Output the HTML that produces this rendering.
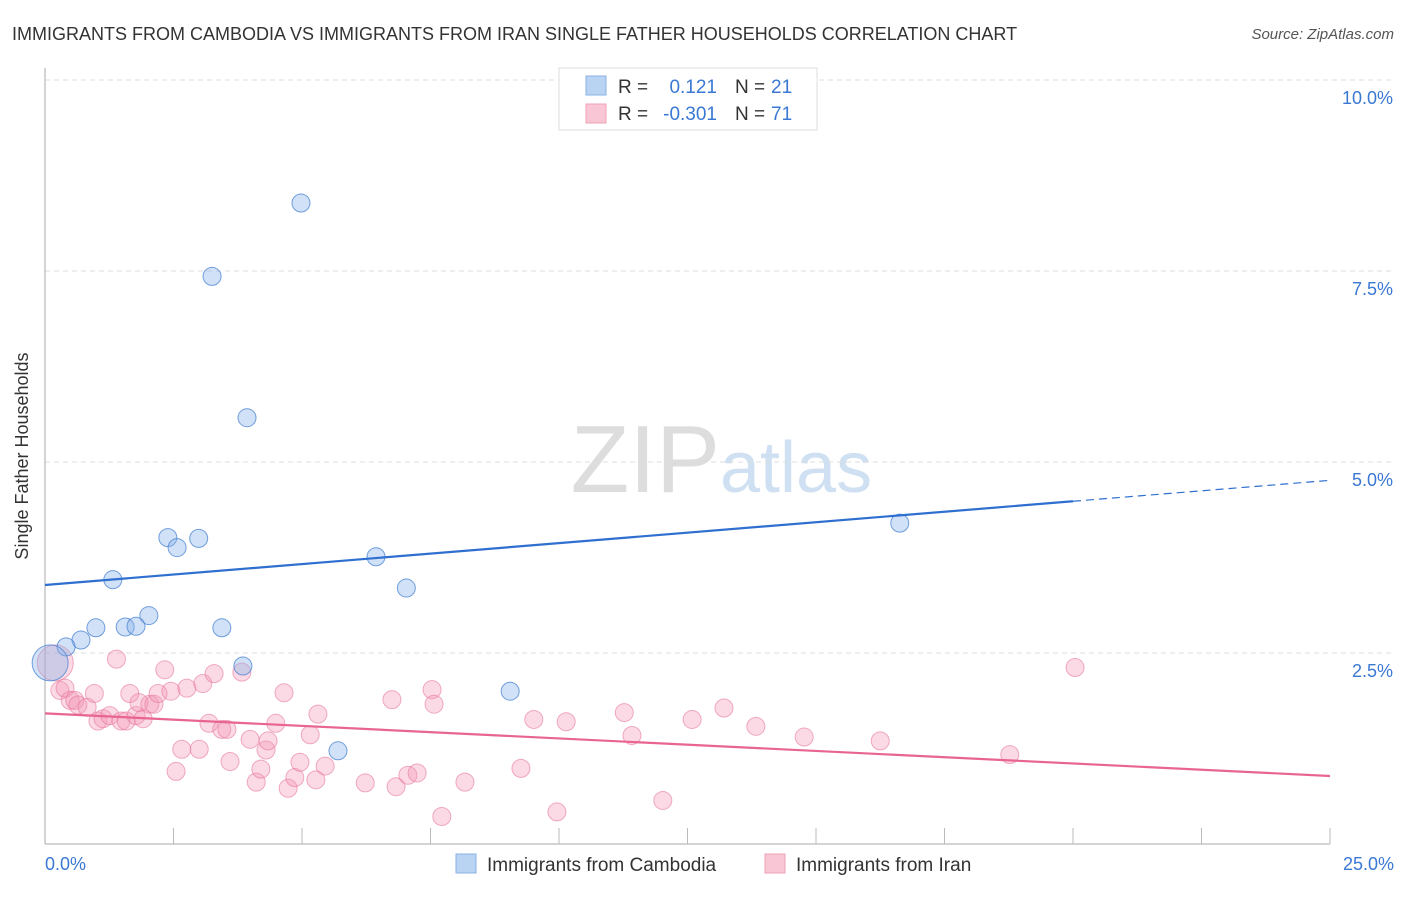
<!DOCTYPE html>
<html><head><meta charset="utf-8">
<style>
body{margin:0;background:#fff;font-family:"Liberation Sans",sans-serif;}
svg text{font-family:"Liberation Sans",sans-serif;}
</style></head>
<body>
<svg id="chart" width="1406" height="892">
<text x="12" y="40" font-size="18" fill="#333">IMMIGRANTS FROM CAMBODIA VS IMMIGRANTS FROM IRAN SINGLE FATHER HOUSEHOLDS CORRELATION CHART</text>
<text x="1394" y="39" font-size="15" fill="#555" font-style="italic" text-anchor="end">Source: ZipAtlas.com</text>
<text x="28" y="456" font-size="18" fill="#333" text-anchor="middle" transform="rotate(-90 28 456)">Single Father Households</text>
<text x="720" y="492" font-size="96" fill="#ddd" font-family="Liberation Serif" text-anchor="end">ZIP</text>
<text x="720" y="492" font-size="72" fill="#cfe0f3">atlas</text>
<g id="grid"></g>
<g id="axes"></g>
<g id="pts"></g>
<g id="lines"></g>
<g>
<rect x="559" y="68" width="258" height="62" fill="#fff" stroke="#ddd"/>
<rect x="586" y="76" width="20" height="19" fill="#b9d3f3" stroke="#8ab2e5"/>
<rect x="586" y="104" width="20" height="19" fill="#f8c6d4" stroke="#eea3b9"/>
<text x="618" y="93" font-size="19" fill="#333">R =</text>
<text x="717" y="93" font-size="19" fill="#3a78d4" text-anchor="end">0.121</text>
<text x="735" y="93" font-size="19" fill="#333">N =</text>
<text x="771" y="93" font-size="19" fill="#3a78d4">21</text>
<text x="618" y="120" font-size="19" fill="#333">R =</text>
<text x="717" y="120" font-size="19" fill="#3a78d4" text-anchor="end">-0.301</text>
<text x="735" y="120" font-size="19" fill="#333">N =</text>
<text x="771" y="120" font-size="19" fill="#3a78d4">71</text>
</g>
<g>
<rect x="456" y="854" width="20" height="19" fill="#b9d3f3" stroke="#8ab2e5"/>
<text x="487" y="871" font-size="19" fill="#333">Immigrants from Cambodia</text>
<rect x="765" y="854" width="20" height="19" fill="#f8c6d4" stroke="#eea3b9"/>
<text x="796" y="871" font-size="19" fill="#333">Immigrants from Iran</text>
</g>
</svg>
<script>
const yTicks=[2.5,5.0,7.5,10.0];
const yTickLabels=["2.5%","5.0%","7.5%","10.0%"];
const xTickLabels=["0.0%","25.0%"];
const cambodiaX=[4.98,3.25,3.93,2.39,2.99,2.57,1.32,6.44,7.03,2.02,0.99,1.56,1.77,3.44,0.70,0.41,3.85,9.05,5.70,16.63,0.1];
const cambodiaY=[8.39,7.43,5.58,4.01,4.00,3.88,3.46,3.76,3.35,2.99,2.83,2.84,2.85,2.83,2.67,2.58,2.33,2.0,1.22,4.2,2.37];
const iranX=[0.2,0.29,0.39,0.49,0.58,0.64,0.82,0.96,1.03,1.13,1.26,1.39,1.48,1.58,1.65,1.77,1.83,1.91,2.04,2.12,2.2,2.33,2.45,2.55,2.66,2.76,3.0,3.07,3.19,3.29,3.44,3.54,3.6,3.83,3.99,4.11,4.3,4.34,4.49,4.65,4.73,4.86,4.96,5.16,5.27,5.31,5.45,6.23,6.75,6.83,7.06,7.24,7.53,7.57,7.72,8.17,9.26,9.51,9.96,10.14,11.27,11.42,12.02,12.59,13.21,13.83,14.77,16.25,18.77,20.04,4.2];
const iranY=[2.37,2.01,2.04,1.88,1.88,1.82,1.79,1.97,1.61,1.64,1.68,2.42,1.61,1.61,1.97,1.68,1.85,1.64,1.83,1.83,1.97,2.28,2.0,0.95,1.24,2.04,1.24,2.1,1.58,2.23,1.5,1.5,1.08,2.25,1.37,0.81,1.23,1.35,1.58,1.98,0.73,0.87,1.07,1.43,0.84,1.7,1.02,0.8,1.89,0.75,0.9,0.93,2.02,1.83,0.36,0.81,0.99,1.63,0.42,1.6,1.72,1.42,0.57,1.63,1.78,1.54,1.4,1.35,1.17,2.31,0.98];
const cambodiaTrend=[3.39,4.76];
const iranTrend=[1.71,0.89];
const X0=45,X1=1330,Y0=844,YPX=76.4;
const sx=v=>X0+v/25*(X1-X0);
const sy=v=>Y0-v*YPX;
const NS="http://www.w3.org/2000/svg";
function mk(tag,attrs,parent){const e=document.createElementNS(NS,tag);for(const k in attrs)e.setAttribute(k,attrs[k]);document.getElementById(parent).appendChild(e);return e;}
yTicks.forEach((t,i)=>{
  const g=mk('line',{x1:45,x2:1394,y1:sy(t),y2:sy(t),stroke:'#ddd','stroke-dasharray':'5,4'},'grid');
  
  
  const tx=mk('text',{x:1393,y:sy(t)+24,'font-size':18,fill:'#3a78d4','text-anchor':'end'},'axes');
  tx.textContent=yTickLabels[i];
  
  
});
const ya=mk('line',{x1:45,x2:45,y1:68,y2:844,stroke:'#aaa'},'axes');


const xa=mk('line',{x1:45,x2:1330,y1:844,y2:844,stroke:'#aaa'},'axes');


for(let i=1;i<=10;i++){
  const t=mk('line',{x1:sx(i*2.5),x2:sx(i*2.5),y1:828,y2:844,stroke:'#bbb'},'axes');
  
  
}
const xl0=mk('text',{x:45,y:870,'font-size':18,fill:'#3a78d4'},'axes');
xl0.textContent=xTickLabels[0];


const xl1=mk('text',{x:1394,y:870,'font-size':18,fill:'#3a78d4','text-anchor':'end'},'axes');
xl1.textContent=xTickLabels[1];


iranX.forEach((x,i)=>{
  const big=i===0;
  const c=mk('circle',{cx:sx(x),cy:sy(iranY[i]),r:big?18:9,fill:'rgba(244,150,180,0.35)',stroke:'rgba(230,120,155,0.6)','stroke-width':1},'pts');
  
  
});
cambodiaX.forEach((x,i)=>{
  const big=i===cambodiaX.length-1;
  const c=mk('circle',{cx:sx(x),cy:sy(cambodiaY[i]),r:big?18:9,fill:'rgba(140,180,235,0.4)',stroke:'rgba(70,130,210,0.75)','stroke-width':1},'pts');
  
  
});
const bAt=v=>cambodiaTrend[0]+(cambodiaTrend[1]-cambodiaTrend[0])*v/25;
const l1=mk('line',{x1:sx(0),y1:sy(bAt(0)),x2:sx(20),y2:sy(bAt(20)),stroke:'#2f6fd0','stroke-width':2.2},'lines');


const l2=mk('line',{x1:sx(20),y1:sy(bAt(20)),x2:sx(25),y2:sy(bAt(25)),stroke:'#2f6fd0','stroke-width':1.2,'stroke-dasharray':'8,5'},'lines');


const l3=mk('line',{x1:sx(0),y1:sy(iranTrend[0]),x2:sx(25),y2:sy(iranTrend[1]),stroke:'#e8658f','stroke-width':2.2},'lines');


</script>
</body></html>
